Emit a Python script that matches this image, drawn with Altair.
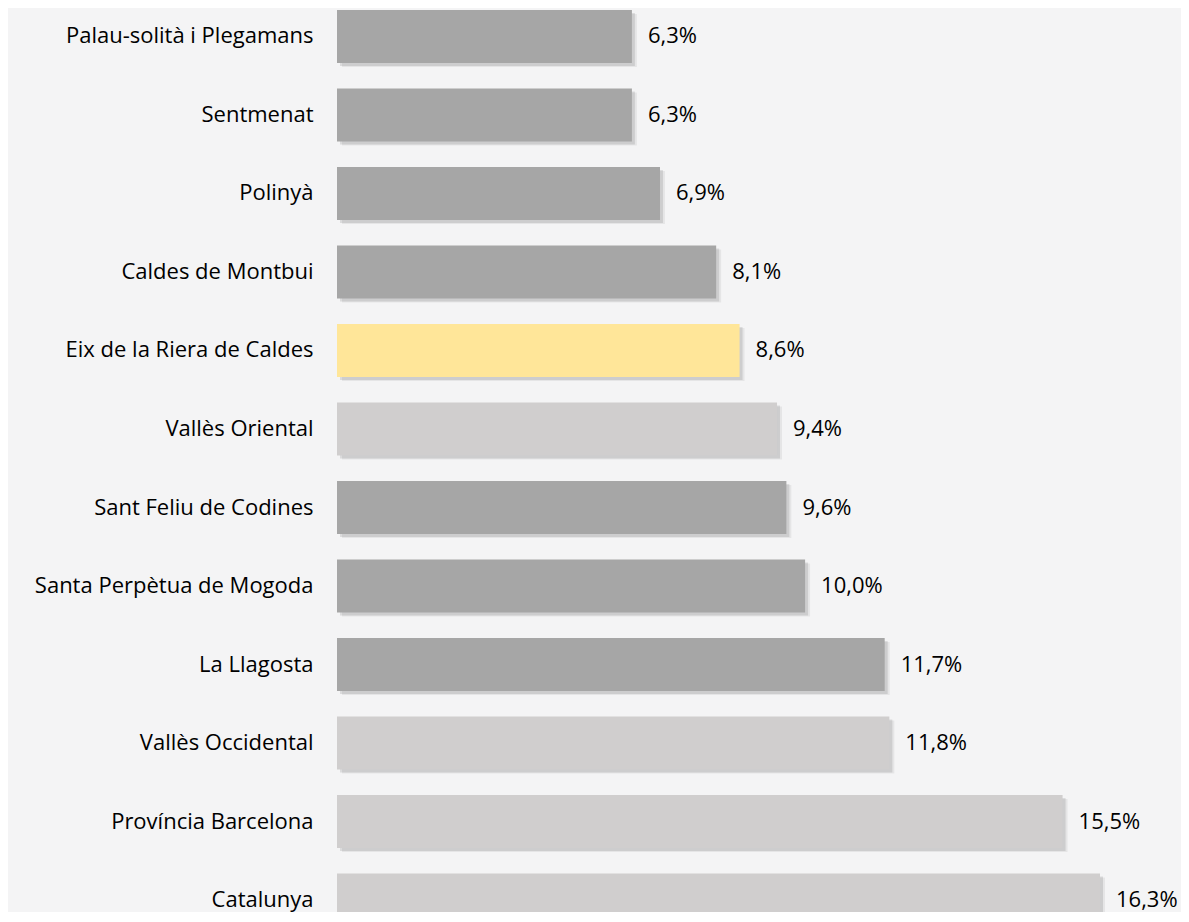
import altair as alt
import pandas as pd

categories = [
    "Palau-solità i Plegamans",
    "Sentmenat",
    "Polinyà",
    "Caldes de Montbui",
    "Eix de la Riera de Caldes",
    "Vallès Oriental",
    "Sant Feliu de Codines",
    "Santa Perpètua de Mogoda",
    "La Llagosta",
    "Vallès Occidental",
    "Província Barcelona",
    "Catalunya",
]
values = [6.3, 6.3, 6.9, 8.1, 8.6, 9.4, 9.6, 10.0, 11.7, 11.8, 15.5, 16.3]
groups = ["municipi", "municipi", "municipi", "municipi", "eix", "territori",
          "municipi", "municipi", "municipi", "territori", "territori", "territori"]

group_names = ["municipi", "eix", "territori"]
group_colors = ["#a6a6a6", "#ffe699", "#d0cece"]

df = pd.DataFrame({
    "cat": categories,
    "val": values,
    "grp": groups,
    "label": [f"{v:.1f}".replace(".", ",") + "%" for v in values],
})

FONT = "Open Sans"
FS = 22

y_enc = alt.Y("cat:N", sort=categories,
              scale=alt.Scale(range=[2, 918.5], paddingInner=0.325, paddingOuter=0),
              axis=alt.Axis(title=None, ticks=False, domain=False, labelFontSize=FS,
                            labelFont=FONT, labelColor="#000000", labelPadding=24,
                            labelLimit=400))
x_enc = alt.X("val:Q", scale=alt.Scale(domain=[0, 18.03], nice=False), axis=None)

base = alt.Chart(df)

shadow1 = base.mark_bar(clip=True, color="#000000", opacity=0.10, xOffset=3, yOffset=3).encode(
    x=x_enc, y=y_enc)
shadow2 = base.mark_bar(clip=True, color="#000000", opacity=0.06, xOffset=5, yOffset=4).encode(
    x=x_enc, y=y_enc)

bars = base.mark_bar(clip=True).encode(
    x=x_enc, y=y_enc,
    color=alt.Color("grp:N", scale=alt.Scale(domain=group_names, range=group_colors), legend=None),
)

texts = base.mark_text(align="left", baseline="middle", dx=16, font=FONT, fontSize=FS,
                       color="#000000").encode(
    x=x_enc, y=y_enc, text="label:N")

chart = alt.layer(shadow2, shadow1, bars, texts).properties(
    width=844, height=904,
    autosize=alt.AutoSizeParams(type="none"),
    padding={"left": 329, "top": 0, "right": 0, "bottom": 0},
    background="#f4f4f5",
).configure_view(stroke=None)

chart.save("out.html", embed_options={"renderer": "svg", "actions": False})
